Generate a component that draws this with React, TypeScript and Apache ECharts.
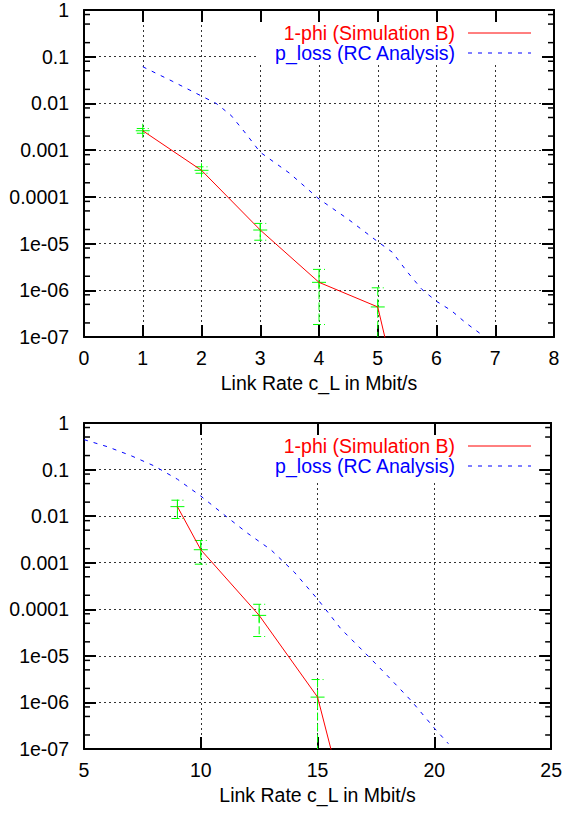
import React, { useEffect, useRef } from 'react';
import * as echarts from 'echarts';

// ---- data ----
const yTickLabels = ['1', '0.1', '0.01', '0.001', '0.0001', '1e-05', '1e-06', '1e-07'];
const legendNames = ['1-phi (Simulation B)', 'p_loss (RC Analysis)'];
const xAxisName = 'Link Rate c_L in Mbit/s';

// top panel
const topSimX = [1, 2, 3, 4, 5, 6];
const topSimY = [0.0026, 0.00037, 1.95e-5, 1.48e-6, 4.4e-7, 2e-12];
const topErrX = [1, 2, 3, 4, 5];
const topErrMid = [0.0026, 0.00037, 1.95e-5, 1.48e-6, 4.4e-7];
const topErrLow = [0.0023, 0.00032, 1.18e-5, 1.85e-7, 1e-9];
const topErrHigh = [0.0029, 0.00044, 2.7e-5, 2.8e-6, 1.13e-6];
const topAnaX = [1, 1.5, 2, 2.25, 2.5, 2.75, 3, 3.5, 4, 4.5, 5, 5.25, 5.5, 5.75, 6, 6.25, 6.5, 6.8];
const topAnaY = [0.061, 0.03, 0.0144, 0.01, 0.0056, 0.0023, 0.0009, 0.00032, 0.00009, 0.000033,
  0.000011, 0.0000065, 0.0000025, 0.00000105, 0.00000058, 0.00000037, 0.0000002, 0.000000105];

// bottom panel
const botSimX = [9, 10, 12.5, 15, 17.5];
const botSimY = [0.016, 0.0019, 7.4e-5, 1.3e-6, 1.7e-11];
const botErrX = [9, 10, 12.5, 15];
const botErrMid = [0.016, 0.0019, 7.4e-5, 1.3e-6];
const botErrLow = [0.0089, 0.00093, 2.6e-5, 1e-9];
const botErrHigh = [0.022, 0.003, 1.28e-4, 3.1e-6];
const botAnaX = [5, 6, 7, 8, 9, 10, 11, 12, 13, 14, 15, 16, 17, 18, 19, 20, 20.6];
const botAnaY = [0.44, 0.31, 0.2, 0.12, 0.062, 0.027, 0.0107, 0.0043, 0.0019, 0.00063, 0.000165,
  0.000038, 0.000012, 0.0000037, 0.0000011, 0.00000028, 0.00000013];

const minorMultipliers = [2, 5, 8];
const decadeExps = [-7, -6, -5, -4, -3, -2, -1];

const RED = '#ff0000';
const BLUE = '#0000ff';
const GREEN = '#00ff00';
const FONT = 'Liberation Sans, Arial, sans-serif';
const FS = 19.5;

const zip = (xs: number[], ys: number[]) => xs.map((x, i) => [x, ys[i]]);

function errRows(xs: number[], lo: number[], hi: number[], mid: number[]) {
  return xs.map((x, i) => [x, lo[i], hi[i], mid[i]]);
}

const minorVals: number[] = [];
decadeExps.forEach((e) => minorMultipliers.forEach((m) => minorVals.push(m * Math.pow(10, e))));

function renderErr(params: any, api: any) {
  const x = api.value(0);
  const lo = api.value(1);
  const hi = api.value(2);
  const m = api.value(3);
  const cs = params.coordSys;
  const top = cs.y;
  const bot = cs.y + cs.height;
  const pl = api.coord([x, lo]);
  const ph = api.coord([x, hi]);
  const pm = api.coord([x, m]);
  const cx = pm[0];
  const yl = Math.min(pl[1], bot);
  const yh = Math.max(ph[1], top);
  const dashed = { stroke: GREEN, lineWidth: 1, lineDash: [8, 3] };
  const solid = { stroke: GREEN, lineWidth: 1 };
  const children: any[] = [
    { type: 'line', shape: { x1: cx, y1: yh, x2: cx, y2: yl }, style: dashed },
    { type: 'line', shape: { x1: cx - 7, y1: pm[1], x2: cx + 7, y2: pm[1] }, style: solid },
    { type: 'line', shape: { x1: cx, y1: pm[1] - 7, x2: cx, y2: Math.min(pm[1] + 7, bot) }, style: solid },
  ];
  if (pl[1] <= bot) children.push({ type: 'line', shape: { x1: cx - 6, y1: yl, x2: cx + 6, y2: yl }, style: dashed });
  if (ph[1] >= top) children.push({ type: 'line', shape: { x1: cx - 6, y1: yh, x2: cx + 6, y2: yh }, style: dashed });
  return { type: 'group', children };
}

function renderMinor(params: any, api: any) {
  const cs = params.coordSys;
  const p = api.coord([api.value(0), api.value(1)]);
  const y = p[1];
  const st = { stroke: '#000', lineWidth: 1.5 };
  return {
    type: 'group',
    children: [
      { type: 'line', shape: { x1: cs.x, y1: y, x2: cs.x + 6, y2: y }, style: st },
      { type: 'line', shape: { x1: cs.x + cs.width - 6, y1: y, x2: cs.x + cs.width, y2: y }, style: st },
    ],
  };
}

const labelStyle = { fontFamily: FONT, fontSize: FS, color: '#000' };
const gridLine = { show: true, lineStyle: { color: '#333', width: 1, type: [2, 3] as any } };
const axisLine = { show: true, onZero: false, lineStyle: { color: '#000', width: 2 } };
const tick = { show: true, inside: true, length: 12, lineStyle: { color: '#000', width: 2 } };

function xAxes(gridIndex: number, min: number, max: number, interval: number) {
  return [
    {
      gridIndex, type: 'value', min, max, interval, position: 'bottom',
      axisLine, axisTick: tick, splitLine: gridLine,
      axisLabel: { ...labelStyle, margin: 11, showMinLabel: true, showMaxLabel: true },
      name: xAxisName, nameLocation: 'middle', nameGap: 36,
      nameTextStyle: { fontFamily: FONT, fontSize: FS, color: '#000' },
      z: 0,
    },
    {
      gridIndex, type: 'value', min, max, interval, position: 'top',
      axisLine, axisTick: tick, splitLine: { show: false }, axisLabel: { show: false },
      z: 3,
    },
  ];
}

function yAxes(gridIndex: number) {
  return [
    {
      gridIndex, type: 'log', logBase: 10, min: 1e-7, max: 1, splitNumber: 7, position: 'left',
      axisLine, axisTick: tick, splitLine: gridLine,
      axisLabel: {
        ...labelStyle, margin: 15, showMinLabel: true, showMaxLabel: true,
        formatter: (v: number) => yTickLabels[-Math.round(Math.log10(v))] ?? '',
      },
      z: 0,
    },
    {
      gridIndex, type: 'log', logBase: 10, min: 1e-7, max: 1, splitNumber: 7, position: 'right',
      axisLine, axisTick: tick, splitLine: { show: false }, axisLabel: { show: false },
      z: 3,
    },
  ];
}

function legendGraphics(textRight: number, lineX1: number, lineX2: number, y1: number, y2: number) {
  const font = `${FS}px ${FONT}`;
  return [
    { type: 'text', z: 5, x: textRight, y: y1, style: { text: legendNames[0], fill: RED, font, align: 'right', verticalAlign: 'middle' } },
    { type: 'line', z: 5, shape: { x1: lineX1, y1, x2: lineX2, y2: y1 }, style: { stroke: RED, lineWidth: 1 } },
    { type: 'text', z: 5, x: textRight, y: y2, style: { text: legendNames[1], fill: BLUE, font, align: 'right', verticalAlign: 'middle' } },
    { type: 'line', z: 5, shape: { x1: lineX1, y1: y2, x2: lineX2, y2 }, style: { stroke: BLUE, lineWidth: 1, lineDash: [4, 6] } },
  ];
}

export default function App() {
  const ref = useRef<HTMLDivElement>(null);
  useEffect(() => {
    document.body.style.margin = '0';
    const chart = echarts.init(ref.current!, null, { renderer: 'svg' });
    const xs = [...xAxes(0, 0, 8, 1), ...xAxes(1, 5, 25, 5)];
    const ys = [...yAxes(0), ...yAxes(1)];
    chart.setOption({
      animation: false,
      backgroundColor: '#fff',
      grid: [
        { left: 84, top: 10, width: 470, height: 327 },
        { left: 84, top: 423, width: 470, height: 326 },
      ],
      xAxis: xs,
      yAxis: ys,
      graphic: [
        { type: 'rect', z: 1, silent: true, shape: { x: 259, y: 11, width: 294, height: 52 }, style: { fill: '#fff' } },
        { type: 'rect', z: 1, silent: true, shape: { x: 209, y: 424, width: 344, height: 58 }, style: { fill: '#fff' } },
        ...legendGraphics(455, 468, 531, 33, 53),
        ...legendGraphics(455, 468, 531, 446, 466),
      ],
      series: [
        {
          type: 'line', name: legendNames[0], xAxisIndex: 0, yAxisIndex: 0,
          data: zip(topSimX, topSimY), symbol: 'none', clip: true,
          lineStyle: { color: RED, width: 1 }, z: 2,
        },
        {
          type: 'line', name: legendNames[1], xAxisIndex: 0, yAxisIndex: 0,
          data: zip(topAnaX, topAnaY), symbol: 'none', clip: true,
          lineStyle: { color: BLUE, width: 1, type: [4, 6] }, z: 2,
        },
        {
          type: 'custom', xAxisIndex: 0, yAxisIndex: 0, silent: true, clip: true,
          data: errRows(topErrX, topErrLow, topErrHigh, topErrMid), renderItem: renderErr, z: 2,
        },
        {
          type: 'line', name: legendNames[0], xAxisIndex: 2, yAxisIndex: 2,
          data: zip(botSimX, botSimY), symbol: 'none', clip: true,
          lineStyle: { color: RED, width: 1 }, z: 2,
        },
        {
          type: 'line', name: legendNames[1], xAxisIndex: 2, yAxisIndex: 2,
          data: zip(botAnaX, botAnaY), symbol: 'none', clip: true,
          lineStyle: { color: BLUE, width: 1, type: [4, 6] }, z: 2,
        },
        {
          type: 'custom', xAxisIndex: 2, yAxisIndex: 2, silent: true, clip: true,
          data: errRows(botErrX, botErrLow, botErrHigh, botErrMid), renderItem: renderErr, z: 2,
        },
        {
          type: 'custom', xAxisIndex: 0, yAxisIndex: 0, silent: true,
          data: minorVals.map((v) => [0, v]), renderItem: renderMinor, z: 3,
        },
        {
          type: 'custom', xAxisIndex: 2, yAxisIndex: 2, silent: true,
          data: minorVals.map((v) => [5, v]), renderItem: renderMinor, z: 3,
        },
      ],
    });
    return () => chart.dispose();
  }, []);
  return <div ref={ref} style={{ width: 565, height: 814 }} />;
}
